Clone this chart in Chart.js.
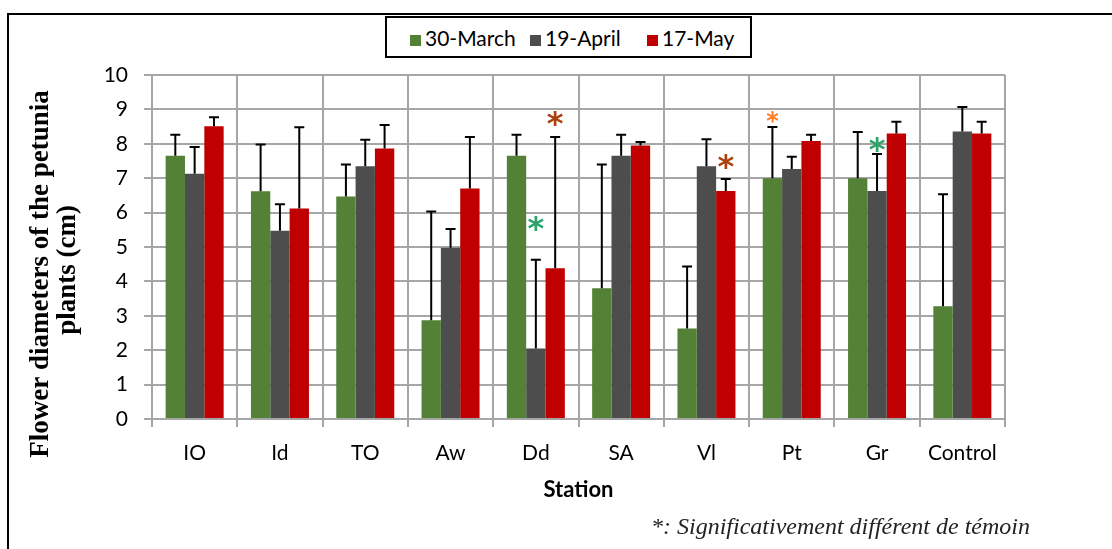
<!DOCTYPE html>
<html>
<head>
<meta charset="utf-8">
<script src="https://cdn.jsdelivr.net/npm/chart.js@4.4.1/dist/chart.umd.min.js"></script>
<style>
  html, body { margin: 0; padding: 0; background: #fff; }
  #wrap { position: relative; width: 1112px; height: 549px; overflow: hidden; }
  #frame { position: absolute; left: 7px; top: 13px; width: 1110px; height: 540px;
           border-top: 2px solid #000; border-left: 2px solid #000; }
  #chart { position: absolute; left: 0; top: 0; }
  #legend { position: absolute; left: 385px; top: 16px; width: 363px; height: 38px;
            border: 2px solid #000; background: #fff; display: flex; align-items: center;
            box-sizing: content-box; padding-left: 0; font: 21px Lato, sans-serif; color: #000; }
  #legend div { position: absolute; top: 7px; white-space: nowrap; }
  #legend span.sw { display: inline-block; width: 11px; height: 11px; margin-right: 4px; }
  #note { position: absolute; right: 82px; top: 513px; line-height: 24px;
          font: italic 24px "Liberation Serif", serif; color: #222; white-space: nowrap; }
</style>
</head>
<body>
<div id="wrap">
  <div id="frame"></div>
  <canvas id="chart" width="1112" height="549"></canvas>
  <div id="legend"></div>
  <div id="note">*: Significativement différent de témoin</div>
</div>
<script>
/* ------------------------- DATA ------------------------- */
const stations = ["IO", "Id", "TO", "Aw", "Dd", "SA", "Vl", "Pt", "Gr", "Control"];
const seriesNames = ["30-March", "19-April", "17-May"];

const march = [7.65, 6.62, 6.47, 2.87, 7.65, 3.80, 2.63, 7.00, 7.00, 3.28];
const april = [7.13, 5.47, 7.35, 4.98, 2.05, 7.65, 7.35, 7.27, 6.63, 8.36];
const may   = [8.51, 6.12, 7.86, 6.70, 4.38, 7.95, 6.63, 8.08, 8.30, 8.30];

// standard deviations (upper error bar only)
const marchSD = [0.61, 1.36, 0.93, 3.16, 0.61, 3.60, 1.80, 1.49, 1.34, 3.25];
const aprilSD = [0.78, 0.77, 0.77, 0.54, 2.58, 0.61, 0.78, 0.35, 1.07, 0.71];
const maySD   = [0.26, 2.36, 0.69, 1.50, 3.82, 0.10, 0.35, 0.18, 0.34, 0.34];

// significance asterisks (value where the * sits, null = none)
const marchStar = [null, null, null, null, null, null, null, 8.80, null, null];
const aprilStar = [null, null, null, null, 5.72, null, null, null, 8.00, null];
const mayStar   = [null, null, null, null, 8.75, null, 7.50, null, null, null];

const yTicks = [0, 1, 2, 3, 4, 5, 6, 7, 8, 9, 10];

/* ------------------------- STYLE ------------------------- */
const colors = ["#538135", "#4d4d4d", "#c00000"];
const starColors = ["#ff7f27", "#2ba36a", "#a9420f"];
const gridColor = "#a6a6a6";
const legendX = [23, 143, 260];

/* ------------------------- LEGEND ------------------------- */
const legendDiv = document.getElementById("legend");
seriesNames.forEach((name, i) => {
    const item = document.createElement("div");
    item.style.left = legendX[i] + "px";
    item.innerHTML = `<span class="sw" style="background:${colors[i]}"></span>${name}`;
    legendDiv.appendChild(item);
});

/* ------------------------- PLUGINS ------------------------- */
const sdSets = [marchSD, aprilSD, maySD];
const starSets = [marchStar, aprilStar, mayStar];

const errorBars = {
    id: "errorBars",
    afterDatasetsDraw(chart) {
        const ctx = chart.ctx;
        const y = chart.scales.y;
        ctx.save();
        ctx.strokeStyle = "#000";
        ctx.lineWidth = 2;
        chart.data.datasets.forEach((ds, di) => {
            const meta = chart.getDatasetMeta(di);
            meta.data.forEach((bar, i) => {
                const top = y.getPixelForValue(ds.data[i] + sdSets[di][i]);
                ctx.beginPath();
                ctx.moveTo(bar.x, bar.y);
                ctx.lineTo(bar.x, top);
                ctx.moveTo(bar.x - 5, top);
                ctx.lineTo(bar.x + 5, top);
                ctx.stroke();
            });
        });
        // asterisks
        ctx.textAlign = "center";
        ctx.textBaseline = "middle";
        chart.data.datasets.forEach((ds, di) => {
            const meta = chart.getDatasetMeta(di);
            starSets[di].forEach((v, i) => {
                if (v === null) return;
                const bar = meta.data[i];
                const small = di === 0;
                ctx.font = (small ? "bold 24px" : "bold 32px") + " 'DejaVu Sans'";
                ctx.fillStyle = starColors[di];
                ctx.fillText("*", bar.x, y.getPixelForValue(v) + (small ? 6 : 8));
            });
        });
        ctx.restore();
    }
};

const yTitle = {
    id: "yTitle",
    afterDraw(chart) {
        const ctx = chart.ctx;
        ctx.save();
        ctx.fillStyle = "#000";
        ctx.font = "bold 27px 'Liberation Serif'";
        ctx.textAlign = "center";
        ctx.textBaseline = "alphabetic";
        [["Flower diameters of the petunia", 48, 274], ["plants (cm)", 75, 270]].forEach(([t, x, yc]) => {
            ctx.save();
            ctx.translate(x, yc);
            ctx.rotate(-Math.PI / 2);
            ctx.fillText(t, 0, 0);
            ctx.restore();
        });
        ctx.restore();
    }
};

/* ------------------------- CHART ------------------------- */
new Chart(document.getElementById("chart"), {
    type: "bar",
    data: {
        labels: stations,
        datasets: [march, april, may].map((d, i) => ({
            label: seriesNames[i],
            data: d,
            backgroundColor: colors[i],
            categoryPercentage: 0.68,
            barPercentage: 1.0
        }))
    },
    options: {
        responsive: false,
        animation: false,
        layout: { padding: { left: 0, top: 75, right: 107, bottom: 46 } },
        plugins: { legend: { display: false }, tooltip: { enabled: false } },
        scales: {
            x: {
                afterFit(s) { s.height = 84; },
                grid: { color: gridColor, lineWidth: 2, tickLength: 8, offset: true },
                border: { color: gridColor, width: 2 },
                ticks: { color: "#000", font: { family: "Lato", size: 21 }, padding: 14 },
                title: { display: true, text: "Station", color: "#000",
                         font: { family: "Lato", size: 22, weight: "bold" }, padding: 0 }
            },
            y: {
                min: 0, max: 10,
                afterFit(s) { s.width = 152; },
                afterBuildTicks(s) { s.ticks = yTicks.map(v => ({ value: v })); },
                grid: { color: gridColor, lineWidth: 2, tickLength: 8 },
                border: { color: gridColor, width: 2 },
                ticks: { color: "#000", font: { family: "Lato", size: 21 }, padding: 16 }
            }
        }
    },
    plugins: [errorBars, yTitle]
});
</script>
</body>
</html>
